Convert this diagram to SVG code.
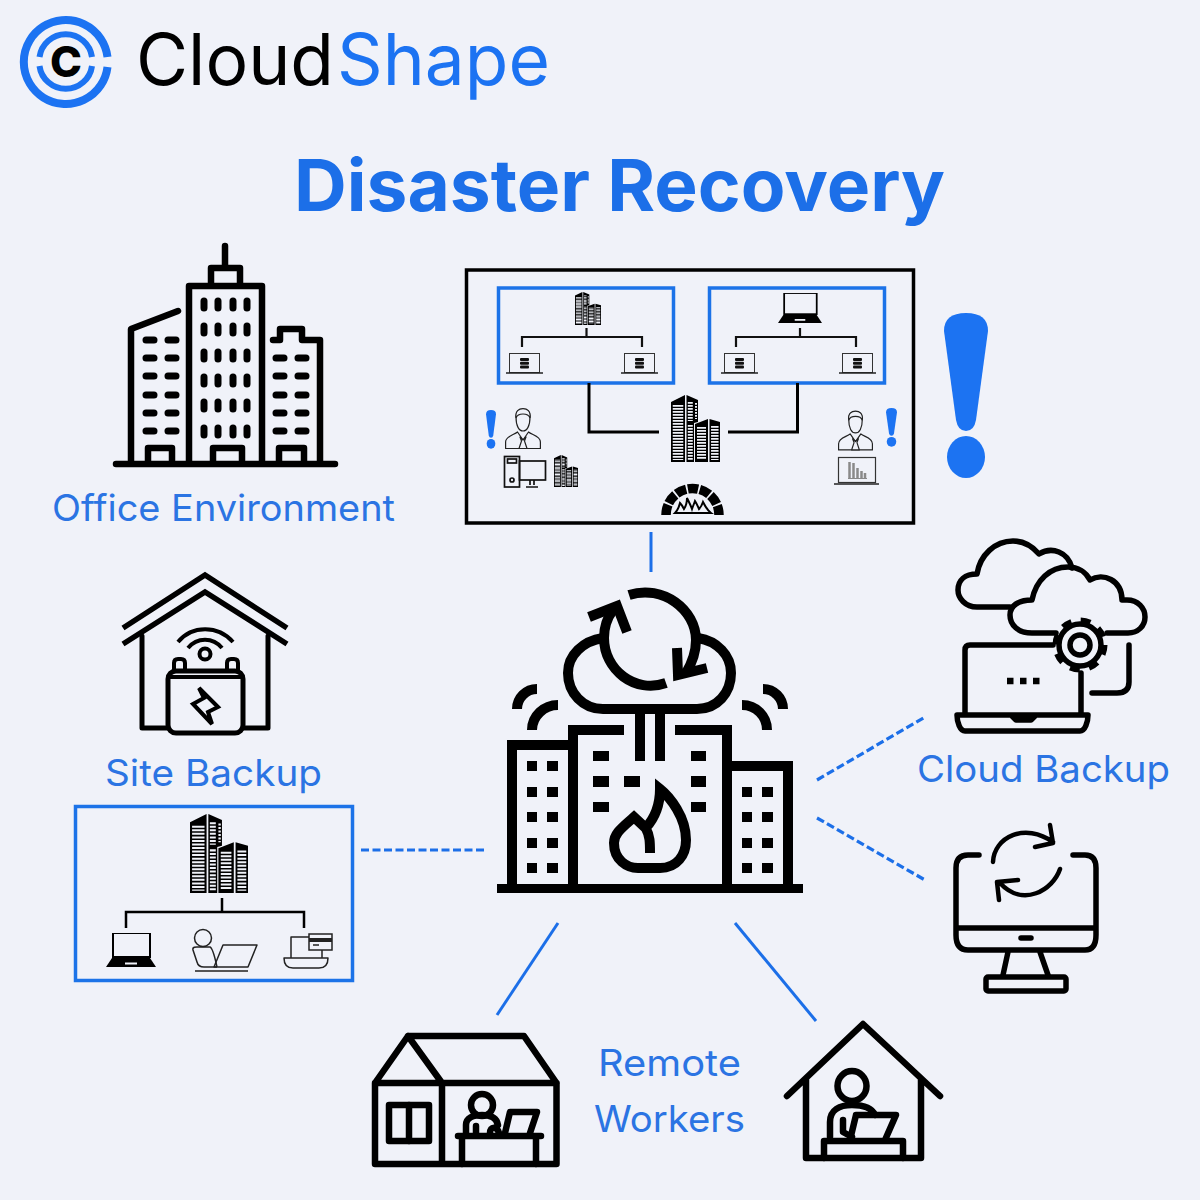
<svg xmlns="http://www.w3.org/2000/svg" width="1200" height="1200" viewBox="0 0 1200 1200">
<style>
text{font-family:"Inter","Liberation Sans",sans-serif}
.lbl{font-size:37px;fill:#2b74e3;font-weight:400}
.k{fill:none;stroke:#000;stroke-linejoin:round;stroke-linecap:round}
.c{fill:none;stroke:#000;stroke-width:10;stroke-linejoin:miter}
.w{fill:#000}
.o{fill:none;stroke:#000;stroke-width:6.5;stroke-linecap:round;stroke-linejoin:round}
.p{stroke:#000;stroke-width:7;stroke-linecap:round}
.s{fill:none;stroke:#000;stroke-width:5.5;stroke-linecap:round;stroke-linejoin:round}
.b{fill:none;stroke:#1c73e8;stroke-width:3.5}
.t{fill:none;stroke:#000;stroke-width:3.5}
.l{stroke:#1c6fe8;stroke-width:3;fill:none}
.d{stroke:#1c6fe8;stroke-width:3.2;fill:none;stroke-dasharray:8 3.5}
.thin{fill:#f0f2f9;stroke:#222;stroke-width:1.2;stroke-linejoin:round}
</style>
<defs>
<symbol id="tower" viewBox="0 0 49 67" preserveAspectRatio="none">
<path d="M0 7L14 0V67H0ZM15.5 0L27 5V27L23 28V67H15.5ZM24 29L37 24V67H24ZM38.500 24L49 27V67H38.500Z" fill="#000"/>
<g stroke="#f0f2f9" stroke-dasharray="1.700 1.300" fill="none">
<path d="M7 10V65" stroke-width="10.500"/><path d="M19.300 7V26M19.300 30V65" stroke-width="5"/><path d="M25 8V24" stroke-width="2"/><path d="M30.500 32V65" stroke-width="9"/><path d="M43.800 31V65" stroke-width="7.500"/>
</g>
</symbol>
<symbol id="bang" viewBox="944 313 44 166" preserveAspectRatio="none">
<path d="M944 331Q944 313 966 313Q988 313 988 331L976 420Q974 431 966 431Q958 431 956 420Z" fill="#1c73f2"/>
<ellipse cx="966" cy="457" rx="19" ry="21" fill="#1c73f2"/>
</symbol>
<symbol id="dblap" viewBox="0 0 37 21">
<rect x="3.500" y="0.500" width="30" height="19" fill="none" stroke="#333" stroke-width="1"/>
<path d="M0 20H37" stroke="#222" stroke-width="1.400"/>
<g fill="#111"><rect x="14" y="5" width="9" height="3" rx="1"/><rect x="14" y="8.800" width="9" height="3" rx="1"/><rect x="14" y="12.600" width="9" height="3" rx="1"/></g>
</symbol>
<symbol id="person" viewBox="0 0 36 41">
<path class="thin" d="M0.600 40.500V34C0.600 28 9 27 12.500 24L18 32L23.500 24C27 27 35.400 28 35.400 34V40.500Z"/>
<path class="thin" d="M15 29L18 32L21 29L19.500 33L22 40.500H14L16.500 33Z"/>
<path class="thin" d="M11 9C11 18 14 23 18 23C22 23 25 18 25 9C25 3 22 1 18 1C14 1 11 3 11 9Z"/>
<path d="M11 10C10 3 14 0.600 18 0.600C22 0.600 26 3 25 10C24 7 22 6 18 6C14 6 12 7 11 10Z" fill="#f0f2f9" stroke="#222" stroke-width="1.200"/>
</symbol>
<symbol id="biglap" viewBox="0 0 50 34">
<rect x="7" y="0" width="37" height="24" fill="none" stroke="#000" stroke-width="2"/>
<path d="M6 25H44L50 34H0Z" fill="#000"/><rect x="19" y="29.500" width="12" height="2" fill="#f0f2f9"/>
</symbol>
</defs>
<rect width="1200" height="1200" fill="#f0f2f9"/>

<g id="logo">
<path d="M107.500 57A42 42 0 1 0 107.500 67" fill="none" stroke="#1c73f2" stroke-width="8"/>
<path d="M39.500 57A26.500 26.500 0 0 1 92 57M92 66A26.500 26.500 0 0 1 39.500 66" fill="none" stroke="#1c73f2" stroke-width="6"/>
<text x="66" y="77" text-anchor="middle" font-size="43" font-weight="800" fill="#000">C</text>
<text x="136" y="85" font-size="71" textLength="198" lengthAdjust="spacingAndGlyphs" fill="#000">Cloud</text>
<text x="337" y="85" font-size="71" textLength="213" lengthAdjust="spacingAndGlyphs" fill="#1c73f2">Shape</text>
</g>
<text id="title" x="294" y="211" font-size="72" font-weight="700" textLength="651" lengthAdjust="spacingAndGlyphs" fill="#1c6fe8">Disaster Recovery</text>

<g id="connectors">
<path class="l" d="M651 532V572"/>
<path class="d" d="M361 850H485"/>
<path class="d" d="M817 780L925 717"/>
<path class="d" d="M817 818L925 880"/>
<path class="l" d="M558 923L497 1015"/>
<path class="l" d="M735 923L816 1021"/>
</g>

<g id="office-environment">
<path class="o" d="M116 464H335M131 462V329L178 311M189 464V286H262V464M211 286V268H240V286M225 246V268M273 340H280V329H302V340H320V464M148 462V448H172V462M213 462V448H242V462M279 462V448H304V462"/>
<path class="p" d="M204 301v7M218 301v7M233 301v7M247 301v7M204 326v7M218 326v7M233 326v7M247 326v7M204 352v7M218 352v7M233 352v7M247 352v7M204 377v7M218 377v7M233 377v7M247 377v7M204 402v7M218 402v7M233 402v7M247 402v7M204 428v7M218 428v7M233 428v7M247 428v7"/>
<path class="p" d="M146 340h8M168 340h8M146 358h8M168 358h8M146 376h8M168 376h8M146 395h8M168 395h8M146 413h8M168 413h8M146 431h8M168 431h8M276 358h8M298 358h8M276 376h8M298 376h8M276 395h8M298 395h8M276 413h8M298 413h8M276 431h8M298 431h8"/>
<text class="lbl" x="52" y="521" textLength="343" lengthAdjust="spacingAndGlyphs">Office Environment</text>
</g>

<g id="primary-site">
<rect x="466.500" y="270" width="447" height="253" class="t"/>
<rect x="498.500" y="288" width="175" height="95" class="b"/>
<rect x="709.500" y="288" width="175" height="95" class="b"/>
<use href="#tower" x="575" y="292" width="26" height="33"/>
<path d="M586.500 328V337M522 347V337H642V347" fill="none" stroke="#111" stroke-width="2.200"/>
<use href="#dblap" x="506" y="353" width="37" height="21"/>
<use href="#dblap" x="621" y="353" width="37" height="21"/>
<use href="#biglap" x="778" y="293" width="44" height="30"/>
<path d="M800 328V337M736 347V337H856V347" fill="none" stroke="#111" stroke-width="2.200"/>
<use href="#dblap" x="721" y="353" width="37" height="21"/>
<use href="#dblap" x="839" y="353" width="37" height="21"/>
<path d="M589 383V432H659M797.500 383V432H728" fill="none" stroke="#000" stroke-width="3"/>
<use href="#tower" x="671" y="395" width="49" height="67"/>
<use href="#bang" x="486" y="410" width="10" height="39"/>
<use href="#bang" x="886" y="408" width="11" height="39"/>
<use href="#person" x="505" y="408" width="36" height="41"/>
<use href="#person" x="838" y="410" width="35" height="41"/>
<g fill="none" stroke="#111" stroke-width="1.700">
<rect x="504.500" y="456.500" width="15" height="30.500"/><rect x="507.500" y="459" width="9" height="4"/><circle cx="512" cy="480" r="2"/>
<rect x="519.500" y="461" width="26" height="19"/><path d="M530 480V485M534 480V485M526 487H538"/>
</g>
<use href="#tower" x="554" y="455" width="24" height="32"/>
<rect x="838.500" y="457.500" width="37" height="25" fill="none" stroke="#333" stroke-width="1.200"/>
<path d="M834 484H879" stroke="#222" stroke-width="1.600"/>
<path d="M849.500 478V462M853.500 478V463M857.500 478V468M861.500 478V471M865 478V473" stroke="#8a8a8a" stroke-width="2.500"/>
<path d="M848 478.500H867" stroke="#888" stroke-width="1"/>
<path d="M666 515A26.500 26.500 0 0 1 719 515" fill="none" stroke="#000" stroke-width="9.500" stroke-dasharray="10.500 1.700"/>
<path d="M675 513C678 510 679 507 680 503C682 505 683 507 684 509C686 506 687 503 687 498C689 502 691 506 692 509C693 506 694 504 695 501C697 504 698 507 699 509C701 507 702 505 703 502C705 506 707 510 711 513Z" fill="none" stroke="#000" stroke-width="2"/>
</g>

<use id="alert" href="#bang" x="944" y="313" width="44" height="166"/>

<g id="disaster-center">
<path class="c" d="M497 888.500H803" style="stroke-width:9"/>
<path class="c" d="M512 888V745H573M573 888V730H624M675 730H727V888M727 766H788V888"/>
<path class="w" d="M527 761h10v10h-10zM547 761h11v10h-11zM527 787h10v10h-10zM547 787h11v10h-11zM527 812h10v10h-10zM547 812h11v10h-11zM527 838h10v10h-10zM547 838h11v10h-11zM527 863h10v10h-10zM547 863h11v10h-11zM742 787h10v10h-10zM762 787h11v10h-11zM742 812h10v10h-10zM762 812h11v10h-11zM742 838h10v10h-10zM762 838h11v10h-11zM742 863h10v10h-10zM762 863h11v10h-11zM593 751h16v10h-16zM593 776h16v11h-16zM593 802h16v10h-16zM691 751h15v10h-15zM691 776h15v11h-15zM691 802h15v10h-15zM624 776h16v11h-16zM635 710h10v51h-10zM655 710h10v51h-10z"/>
<path class="c" d="M603 638C583 641 568 655 568 673C568 693 583 709 603 709H697C717 709 731 693 731 673C731 655 717 641 698 638"/>
<path class="c" d="M629 595C663 584 696 610 696 640C696 652 692 663 686 673"/>
<path class="c" d="M677 648L678 675L707 668"/>
<path class="c" d="M666 683C635 694 604 670 604 638C604 628 607 618 613 610"/>
<path class="c" d="M589 617L617 606L627 632"/>
<path class="c" d="M537 689C526 689 517 698 517 709M558 705C544 705 532 716 532 730M763 689C774 689 783 698 783 709M742 705C756 705 767 716 767 730"/>
<path class="c" d="M645.700 828L634 817C623 827 614 833 614 843C614 860 627 868 638 868H660C677 868 686 855 686 840C686 817 670 797 660 789C660 807 653 820 645.700 828C650 836 650 842 650 853"/>
</g>

<g id="site-backup">
<path d="M123 628L205 575L287 628M123 644L205 592L287 644" fill="none" stroke="#000" stroke-width="5.500" stroke-linejoin="miter"/>
<path class="k" style="stroke-width:5" d="M142 636V728H168M268 636V728H243"/>
<rect x="168" y="671" width="75" height="62" rx="8" class="k" style="stroke-width:5"/>
<path class="k" style="stroke-width:4" d="M168 677H243M174 670V663Q174 659 178 659H181Q185 659 185 663V670M227 670V663Q227 659 231 659H234Q238 659 238 663V670"/>
<circle cx="205" cy="654" r="5.500" class="k" style="stroke-width:4"/>
<path class="k" style="stroke-width:4;stroke-linecap:butt" d="M188 648C197 637 213 637 222 648M178 642C192 625 218 625 233 642"/>
<path fill="none" stroke="#000" stroke-width="4" stroke-linejoin="miter" d="M199 688L218 707L208 712L212 724L193 704L204 698Z"/>
<text class="lbl" x="105" y="786" textLength="217" lengthAdjust="spacingAndGlyphs">Site Backup</text>
<rect x="75.500" y="806.500" width="277" height="174" class="b"/>
<use href="#tower" x="190" y="814" width="58" height="79"/>
<path d="M222 898V912M126 928V912H304V928" fill="none" stroke="#000" stroke-width="2.500"/>
<use href="#biglap" x="106" y="933" width="50" height="34"/>
<g fill="none" stroke="#222" stroke-width="1.500" stroke-linejoin="round">
<circle cx="203" cy="938" r="8.500"/>
<path d="M217 967H204C200 967 198 966 197 962L193 950C192 946 197 947 200 947H210C213 948 215 958 217 967"/>
<path d="M223 945H257L248 967H214ZM195 971H248"/>
<path d="M316 937H291V958M284 958H328Q328 968 319 968H293Q284 968 284 958ZM322 950V958"/>
</g>
<rect x="309" y="934" width="23" height="16" fill="#f0f2f9" stroke="#222" stroke-width="1.500"/>
<path d="M309 940H332" stroke="#222" stroke-width="4"/><path d="M313 945H319" stroke="#222" stroke-width="1.500"/>
</g>

<g id="cloud-backup">
<path class="s" d="M1010 607H977C965 607 958 598 958 590C958 580 965 574 977 574C980 555 995 541 1013 541C1025 541 1033 547 1039 554C1052 546 1068 552 1072 568"/>
<path class="s" d="M1056 633H1032C1018 633 1010 625 1010 615C1010 606 1018 600 1032 600C1036 580 1050 567 1068 567C1078 567 1086 572 1090 580C1103 572 1122 580 1122 600H1127C1138 600 1145 608 1145 617C1145 626 1138 633 1128 633H1107"/>
<circle cx="1080" cy="645" r="21" class="s"/>
<circle cx="1080" cy="645" r="25" fill="none" stroke="#000" stroke-width="5" stroke-dasharray="10 9.630"/>
<circle cx="1080" cy="645" r="10" class="s"/>
<path class="s" d="M1053 645H970Q965 645 965 650V715M1081 673V715M957 715H1088C1088 722 1085 731 1080 731H965C960 731 957 722 957 715ZM1012 716L1016 720H1031L1035 716M1129 645V682Q1129 693 1117 693H1092"/>
<path d="M1007 681H1040" stroke="#000" stroke-width="6.500" stroke-dasharray="6.500 6.500"/>
<text class="lbl" x="917" y="782" textLength="253" lengthAdjust="spacingAndGlyphs">Cloud Backup</text>
</g>

<g id="sync-monitor">
<path class="s" d="M979 855H968Q956 855 956 868V935Q956 950 968 950H1085Q1096 950 1096 935V868Q1096 855 1085 855H1073M956 928H1096M1021 938H1031M1008 952L1003 975M1040 952L1048 975"/>
<rect x="986" y="977" width="80" height="14" rx="2" class="s"/>
<path class="k" style="stroke-width:4.500" d="M993 862C994 837 1025 822 1053 842M1050 825L1053 843L1035 847M1060 869C1053 890 1023 908 1000 883M1018 880L997 882L999 900"/>
</g>

<g id="remote-worker-home">
<path class="o" d="M375 1083L408 1036H524L556.500 1083ZM408 1036L442 1083V1164M375 1083V1164H556.500V1083"/>
<rect x="389" y="1105" width="40" height="36" class="o"/><path class="o" d="M409 1105V1141"/>
<ellipse cx="482" cy="1105" rx="11" ry="11" class="o"/>
<path class="o" d="M466 1133V1125C466 1118 473 1115 482 1115C492 1115 497 1119 498 1125M476 1133V1126M490 1133C490 1126 497 1126 499 1133"/>
<path class="o" d="M458 1136H541M462 1136V1164M536 1136V1164M505 1133L510 1112H537L530 1133"/>
<text class="lbl" x="598" y="1076" textLength="143" lengthAdjust="spacingAndGlyphs">Remote</text>
<text class="lbl" x="594" y="1132" textLength="151" lengthAdjust="spacingAndGlyphs">Workers</text>
</g>

<g id="remote-worker-house">
<path class="o" d="M787 1096L863 1024L940 1096M806 1080V1158H921V1080"/>
<ellipse cx="852" cy="1086" rx="14.500" ry="15" class="o"/>
<path class="o" d="M830 1137V1122C830 1110 840 1105 852 1105C864 1105 872 1108 875 1115M843 1120V1132L852 1137"/>
<path class="o" d="M856 1115H896L885 1140M856 1115L850 1140M824 1158V1141H903V1158"/>
</g>
</svg>
